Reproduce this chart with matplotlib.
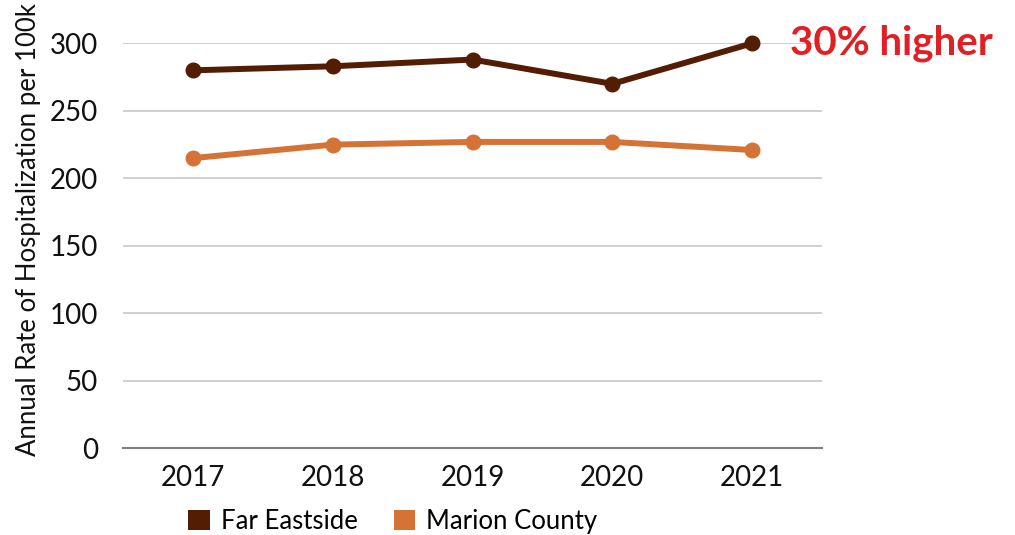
import matplotlib
matplotlib.use("Agg")
import matplotlib.pyplot as plt
from matplotlib.patches import Patch

years = ["2017", "2018", "2019", "2020", "2021"]
far_eastside = [280, 283, 288, 270, 300]
marion_county = [215, 225, 227, 227, 221]
y_ticks = [0, 50, 100, 150, 200, 250, 300]

brown = "#521D03"
orange = "#D57337"
red = "#E02024"

plt.rcParams["font.family"] = ["Lato", "DejaVu Sans"]

fig = plt.figure(figsize=(10.15, 5.35), dpi=100)
ax = fig.add_axes([0.1212, 0.1617, 0.6887, 0.7573])

x = list(range(len(years)))
ax.plot(x, far_eastside, color=brown, lw=4.3, marker="o", ms=10.5,
        solid_capstyle="round", zorder=3, clip_on=False)
ax.plot(x, marion_county, color=orange, lw=4.3, marker="o", ms=10.5,
        solid_capstyle="round", zorder=3, clip_on=False)

ax.set_xlim(-0.5, len(years) - 0.5)
ax.set_ylim(0, 300)
ax.set_yticks(y_ticks)
ax.set_xticks(x)
ax.set_xticklabels(years)
ax.tick_params(axis="both", length=0, labelsize=20, colors="#111111")
ax.tick_params(axis="x", pad=12)
ax.tick_params(axis="y", pad=18)

ax.grid(axis="y", color="#C8C8C8", lw=1.2)
ax.set_axisbelow(True)
for side in ["top", "right", "left"]:
    ax.spines[side].set_visible(False)
ax.spines["bottom"].set_color("#7F7F7F")
ax.spines["bottom"].set_linewidth(1.5)

ax.set_ylabel("Annual Rate of Hospitalization per 100k", fontsize=18.5,
              color="#111111")
ax.yaxis.set_label_coords(-0.117, 0.54)

ax.annotate("30% higher", xy=(x[-1], far_eastside[-1]), xytext=(27, 0),
            textcoords="offset points", ha="left", va="center",
            fontsize=29, fontweight="bold", color=red, annotation_clip=False)

handles = [Patch(facecolor=brown, label="Far Eastside"),
           Patch(facecolor=orange, label="Marion County")]
fig.legend(handles=handles, loc="center left", bbox_to_anchor=(0.1626, 0.025),
           ncol=2, frameon=False, fontsize=18.5, handlelength=0.85,
           handleheight=0.85, handletextpad=0.42, columnspacing=1.4)

fig.savefig("out.png", dpi=100, facecolor="white")
